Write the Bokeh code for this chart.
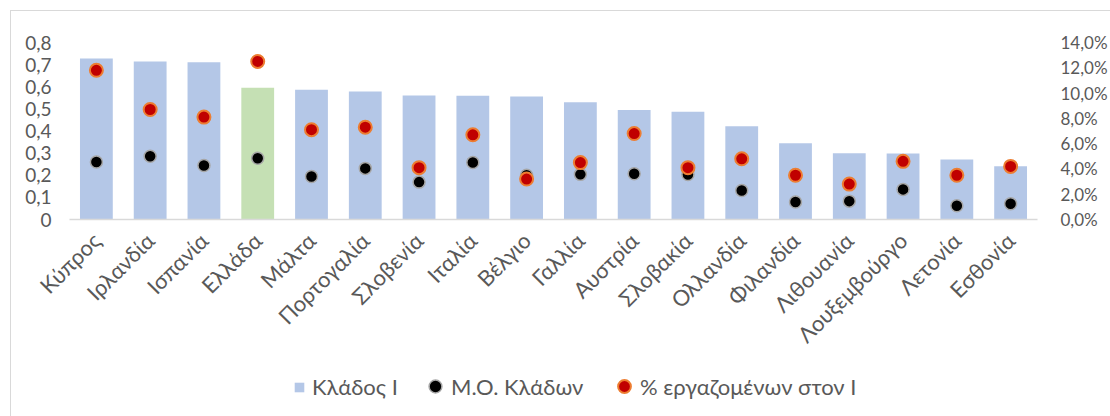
from math import pi

from bokeh.embed import file_html
from bokeh.layouts import column
from bokeh.models import (ColumnDataSource, CustomJSTickFormatter, FactorRange,
                          FixedTicker, Legend, LegendItem, LinearAxis, Range1d)
from bokeh.plotting import figure
from bokeh.resources import INLINE

# Countries, ordered by the value of sector I
countries = ["Κύπρος", "Ιρλανδία", "Ισπανία", "Ελλάδα", "Μάλτα", "Πορτογαλία",
             "Σλοβενία", "Ιταλία", "Βέλγιο", "Γαλλία", "Αυστρία", "Σλοβακία",
             "Ολλανδία", "Φιλανδία", "Λιθουανία", "Λουξεμβούργο", "Λετονία", "Εσθονία"]

# Sector I index (left axis)
sector_i = [0.728, 0.714, 0.711, 0.596, 0.587, 0.579, 0.560, 0.559, 0.556,
            0.530, 0.495, 0.487, 0.422, 0.345, 0.299, 0.298, 0.271, 0.241]

# Average over all sectors (left axis)
sectors_avg = [0.260, 0.286, 0.244, 0.277, 0.194, 0.231, 0.169, 0.258, 0.200,
               0.204, 0.207, 0.203, 0.131, 0.079, 0.083, 0.136, 0.062, 0.071]

# Share of employees working in sector I (right axis)
employed_share = [0.118, 0.087, 0.081, 0.125, 0.071, 0.073, 0.041, 0.067, 0.032,
                  0.045, 0.068, 0.041, 0.048, 0.035, 0.028, 0.046, 0.035, 0.042]

left_ticks = [0.0, 0.1, 0.2, 0.3, 0.4, 0.5, 0.6, 0.7, 0.8]
right_ticks = [0.0, 0.02, 0.04, 0.06, 0.08, 0.10, 0.12, 0.14]

BAR = "#b4c7e7"
HIGHLIGHT = "#c5e0b4"
TEXT = "#595959"
FRAME = "#d9d9d9"
FONT = "Lato"

CHART_H = 360
LEGEND_H = 56
FRAME_LEFT = 69   # the legend strip's frame is aligned with the chart's frame

bar_colors = [HIGHLIGHT if c == "Ελλάδα" else BAR for c in countries]

src = ColumnDataSource(dict(country=countries, sector_i=sector_i,
                            avg=sectors_avg, share=employed_share,
                            color=bar_colors))

bar_style = dict(width=0.61, fill_color="color", line_color=None)
avg_style = dict(size=12, fill_color="black", line_color="#a6a6a6", line_width=1.5)
share_style = dict(size=13, fill_color="#c00000", line_color="#ed7d31", line_width=2)

# ---- main chart -------------------------------------------------------------
p = figure(width=1110, height=CHART_H,
           x_range=FactorRange(factors=countries, range_padding=0),
           y_range=Range1d(0, 0.8), output_backend="svg", toolbar_location=None,
           min_border_left=FRAME_LEFT, min_border_right=66, min_border_top=42,
           min_border_bottom=CHART_H - 222)
p.extra_y_ranges = {"pct": Range1d(0, 0.14)}

p.border_fill_color = None
p.background_fill_color = "white"
p.outline_line_color = None
p.grid.visible = False
# chart-area frame: thin grey lines along the left and top
p.styles = {"background": f"linear-gradient({FRAME},{FRAME}) 10px 10px / 1px 100% no-repeat, "
                          f"linear-gradient({FRAME},{FRAME}) 10px 10px / 100% 1px no-repeat, #ffffff"}

bars = p.vbar(x="country", top="sector_i", source=src, **bar_style)
avg_pts = p.scatter(x="country", y="avg", source=src, **avg_style)
share_pts = p.scatter(x="country", y="share", source=src, y_range_name="pct",
                      **share_style)

# x axis
xa = p.xaxis[0]
xa.axis_line_color = FRAME
xa.axis_line_width = 1.5
xa.major_tick_line_color = None
xa.minor_tick_line_color = None
xa.major_label_orientation = pi / 4
xa.major_label_standoff = 11
xa.major_label_text_font = FONT
xa.major_label_text_font_size = "22px"
xa.major_label_text_color = TEXT

# left axis
ya = p.yaxis[0]
ya.ticker = FixedTicker(ticks=left_ticks)
ya.formatter = CustomJSTickFormatter(
    code="return tick == 0 ? '0' : tick.toFixed(1).replace('.', ',');")
ya.axis_line_color = None
ya.major_tick_line_color = None
ya.minor_tick_line_color = None
ya.major_label_standoff = 12
ya.major_label_text_font = FONT
ya.major_label_text_font_size = "19px"
ya.major_label_text_color = TEXT

# right axis (percent)
ra = LinearAxis(y_range_name="pct", ticker=FixedTicker(ticks=right_ticks),
                formatter=CustomJSTickFormatter(
                    code="return (tick * 100).toFixed(1).replace('.', ',') + '%';"))
ra.axis_line_color = None
ra.major_tick_line_color = None
ra.minor_tick_line_color = None
ra.major_label_standoff = 17
ra.major_label_text_font = FONT
ra.major_label_text_font_size = "17px"
ra.major_label_text_color = TEXT
p.add_layout(ra, "right")

# ---- legend strip under the chart -------------------------------------------
# same series, drawn against a range that keeps them out of view; only the
# legend entries show
lg = figure(width=1110, height=LEGEND_H,
            x_range=FactorRange(factors=countries, range_padding=0),
            y_range=Range1d(10, 11), output_backend="svg", toolbar_location=None,
            x_axis_type=None, y_axis_type=None,
            min_border_left=0, min_border_right=0, min_border_top=0,
            min_border_bottom=0)
lg.border_fill_color = None
lg.background_fill_color = None
lg.outline_line_color = None
lg.grid.visible = False
lg.styles = {"background": f"linear-gradient({FRAME},{FRAME}) 10px 0px / 1px 100% no-repeat, #ffffff"}

lg_bars = lg.vbar(x="country", top="sector_i", source=src, **bar_style)
lg_avg = lg.scatter(x="country", y="avg", source=src, **avg_style)
lg_share = lg.scatter(x="country", y="share", source=src, **share_style)

legend_text = dict(orientation="horizontal", padding=0, margin=0,
                   border_line_color=None, background_fill_alpha=0,
                   label_text_font=FONT, label_text_font_size="22px",
                   label_text_color=TEXT)

# square swatch for the bars; wider swatch boxes for the markers so that the
# legend dots come out at the plotted marker size
leg_bar = Legend(items=[LegendItem(label="Κλάδος Ι", renderers=[lg_bars], index=0)],
                 location=(293 - FRAME_LEFT, 16), glyph_width=12, glyph_height=12,
                 label_standoff=7, **legend_text)
leg_avg = Legend(items=[LegendItem(label="Μ.Ο. Κλάδων", renderers=[lg_avg])],
                 location=(419 - FRAME_LEFT, 14), glyph_width=32, glyph_height=32,
                 label_standoff=-3, **legend_text)
leg_share = Legend(items=[LegendItem(label="% εργαζομένων στον Ι", renderers=[lg_share])],
                   location=(608 - FRAME_LEFT, 14), glyph_width=32, glyph_height=32,
                   label_standoff=-3, **legend_text)
for leg in (leg_bar, leg_avg, leg_share):
    lg.add_layout(leg, "center")

page = column(p, lg, spacing=0)
open("out.html", "w").write(file_html(page, INLINE))
